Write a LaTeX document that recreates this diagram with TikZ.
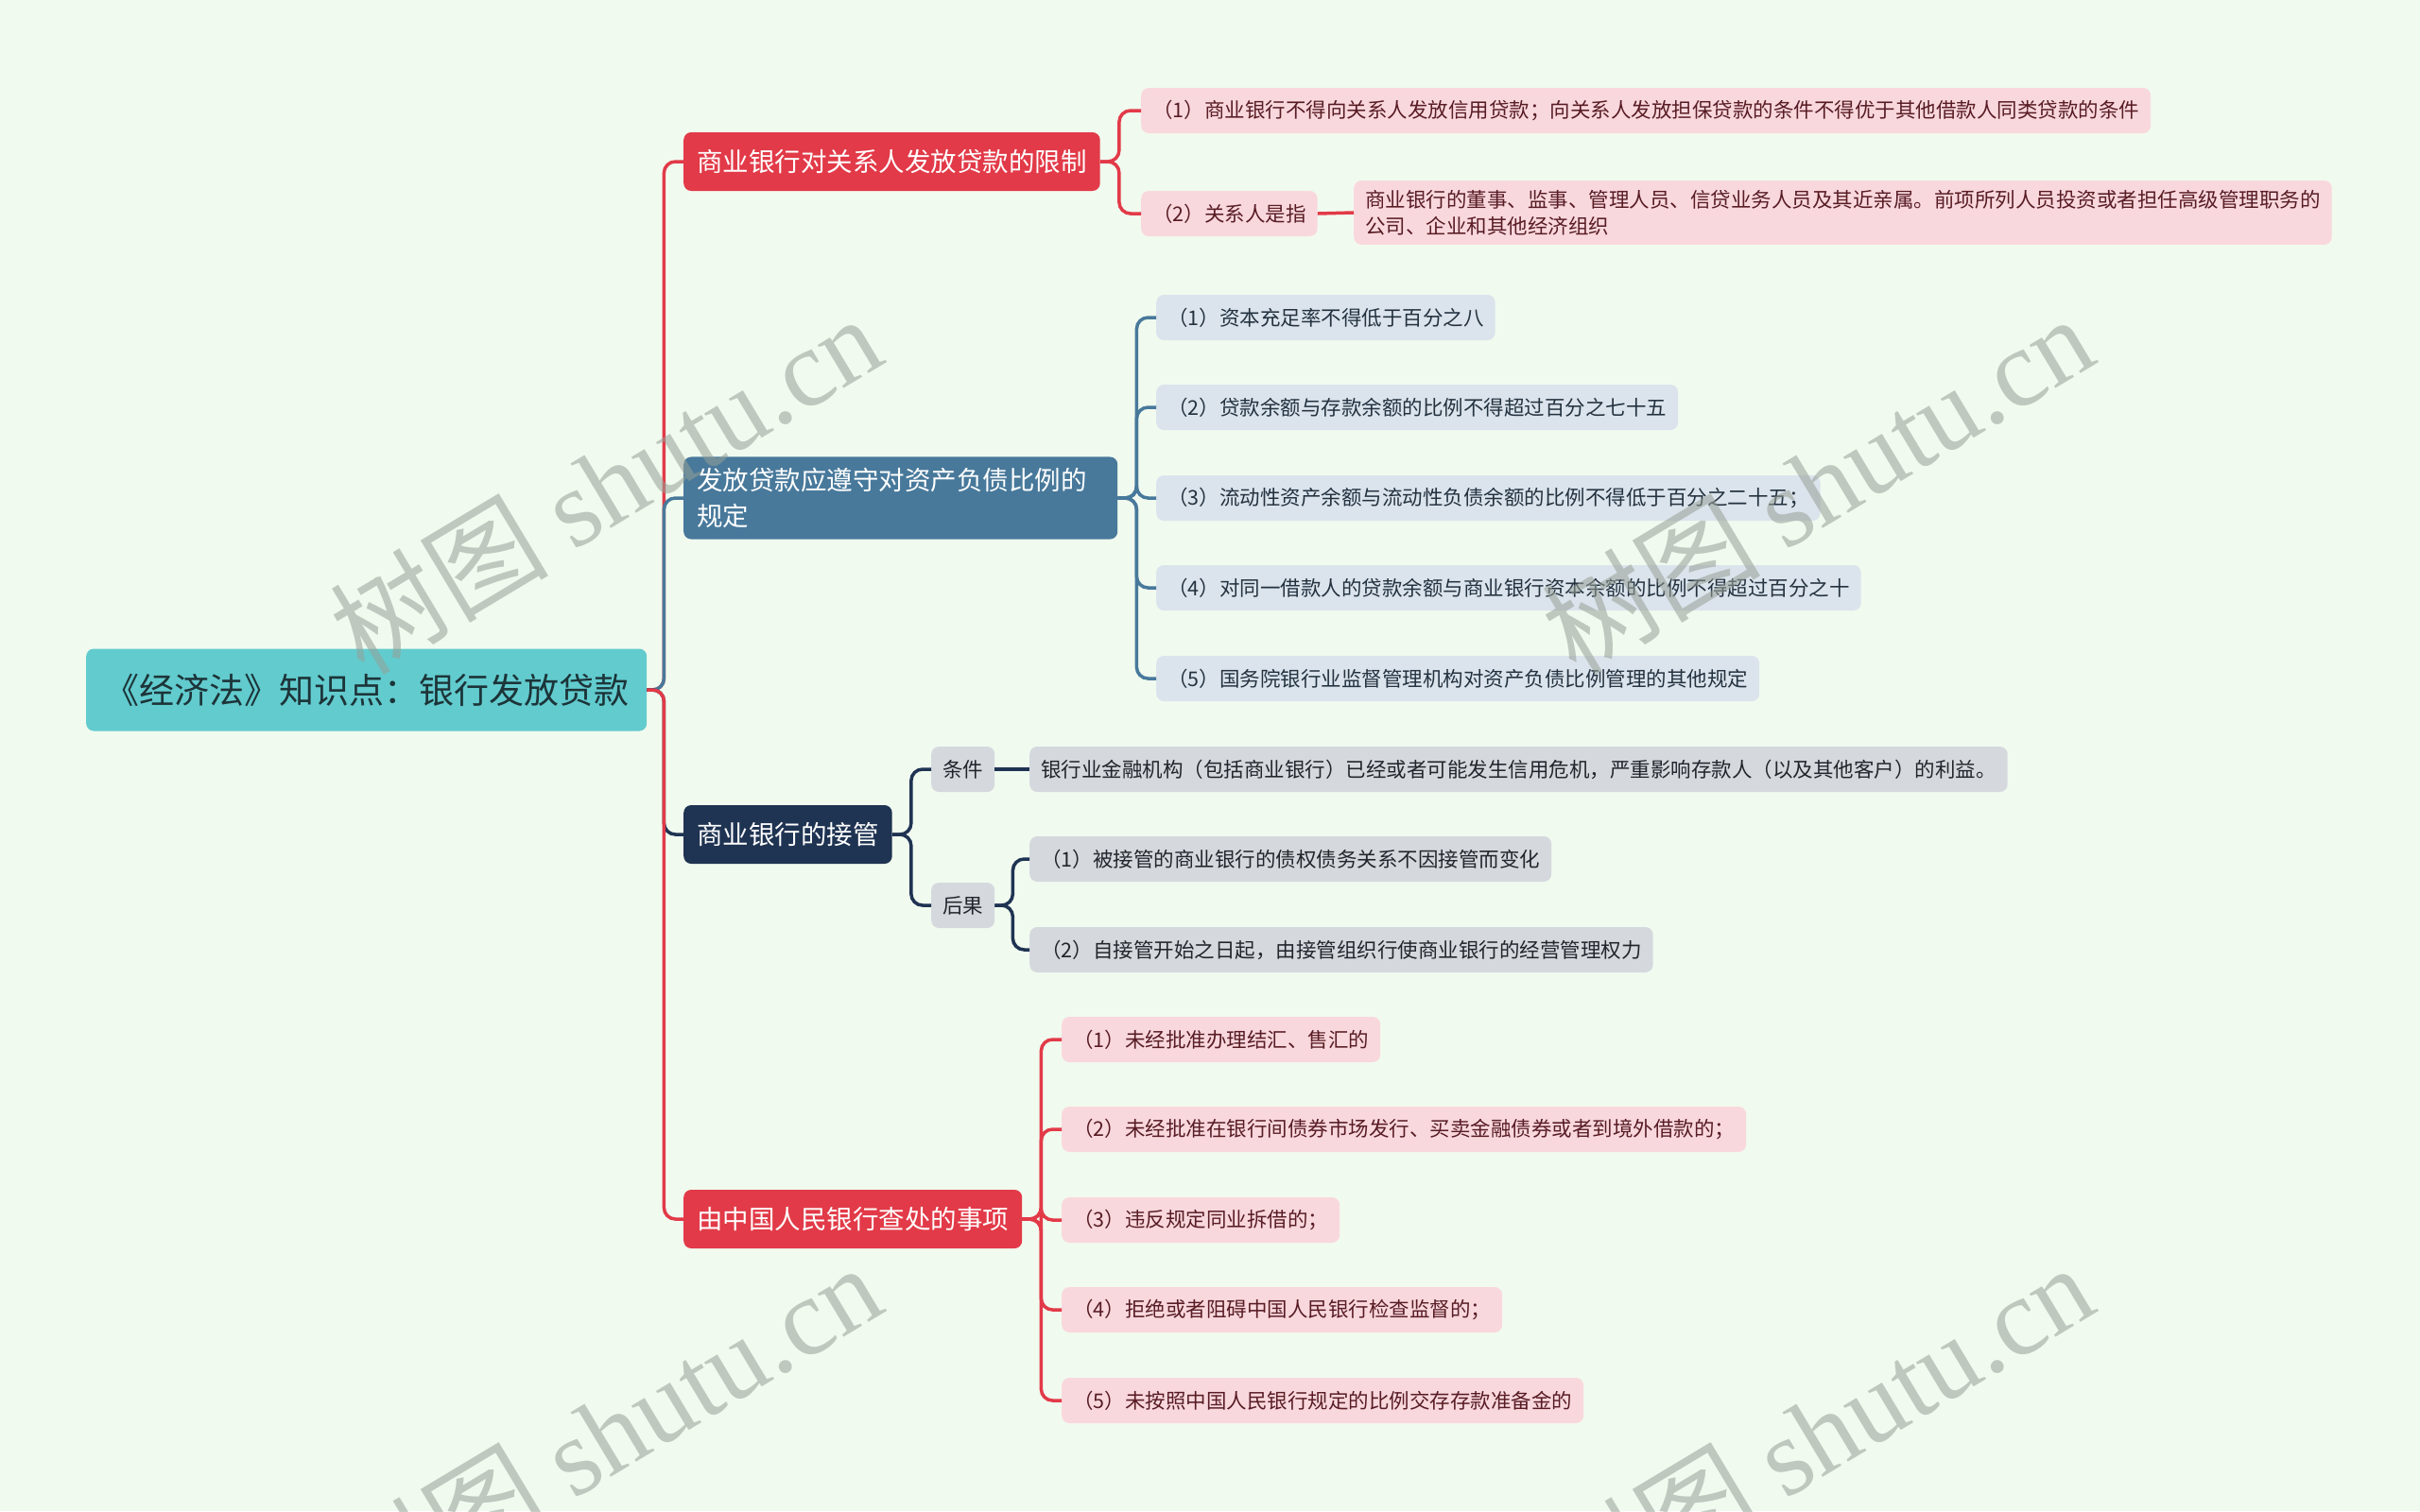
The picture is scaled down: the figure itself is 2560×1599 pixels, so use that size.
\documentclass[tikz,border=0pt]{standalone}
\usepackage{fontspec}
\setmainfont{Noto Sans CJK SC}
\newfontfamily\wmlatin{Liberation Serif}
\definecolor{bg}{RGB}{241,250,239}
\definecolor{rootc}{RGB}{98,203,206}
\definecolor{roottext}{RGB}{28,52,56}
\definecolor{redc}{RGB}{226,58,72}
\definecolor{pinkc}{RGB}{249,216,221}
\definecolor{pinktext}{RGB}{88,28,36}
\definecolor{bluec}{RGB}{72,121,155}
\definecolor{bluelight}{RGB}{219,228,236}
\definecolor{bluetext}{RGB}{36,50,64}
\definecolor{navyc}{RGB}{31,51,82}
\definecolor{greyc}{RGB}{213,217,222}
\definecolor{greytext}{RGB}{34,38,44}
\definecolor{wmc}{RGB}{150,160,150}
\tikzset{
  box/.style={rounded corners=8pt, inner xsep=12pt, inner ysep=0pt, anchor=west, align=left},
  rootbox/.style={box, fill=rootc, text=roottext, minimum height=87pt, inner xsep=19pt, font=\fontsize{37}{44}\selectfont},
  brbox/.style={box, text=white, minimum height=62pt, inner xsep=14pt, font=\fontsize{27.5}{37.5}\selectfont},
  leaf/.style={box, minimum height=48pt, font=\fontsize{21.5}{28}\selectfont},
  pinkleaf/.style={leaf, fill=pinkc, text=pinktext},
  blueleaf/.style={leaf, fill=bluelight, text=bluetext},
  greyleaf/.style={leaf, fill=greyc, text=greytext},
  conn/.style={line width=3.5pt, rounded corners=12pt},
  wm/.style={text=wmc, opacity=0.55, rotate=31, font=\fontsize{116}{120}\selectfont}
}
\begin{document}
\begin{tikzpicture}[x=1pt,y=-1pt]
\useasboundingbox (0,0) rectangle (2560,1599);
\fill[bg] (0,0) rectangle (2560,1599);

% nodes
\node[rootbox] (root) at (91,730) {《经济法》知识点：银行发放贷款};
\node[brbox, fill=redc] (b1) at (723,171) {商业银行对关系人发放贷款的限制};
\node[brbox, fill=bluec, inner ysep=12pt, text width=431pt] (b2) at (723,527) {发放贷款应遵守对资产负债比例的\\规定};
\node[brbox, fill=navyc] (b3) at (723,883) {商业银行的接管};
\node[brbox, fill=redc] (b4) at (723,1290) {由中国人民银行查处的事项};

\node[pinkleaf] (c1a) at (1207,117) {（1）商业银行不得向关系人发放信用贷款；向关系人发放担保贷款的条件不得优于其他借款人同类贷款的条件};
\node[pinkleaf] (c1b) at (1207,226) {（2）关系人是指};
\node[pinkleaf, inner ysep=10pt] (c1c) at (1432,225) {商业银行的董事、监事、管理人员、信贷业务人员及其近亲属。前项所列人员投资或者担任高级管理职务的\\公司、企业和其他经济组织};

\node[blueleaf] (c2a) at (1223,336) {（1）资本充足率不得低于百分之八};
\node[blueleaf] (c2b) at (1223,431) {（2）贷款余额与存款余额的比例不得超过百分之七十五};
\node[blueleaf] (c2c) at (1223,527) {（3）流动性资产余额与流动性负债余额的比例不得低于百分之二十五；};
\node[blueleaf] (c2d) at (1223,622) {（4）对同一借款人的贷款余额与商业银行资本余额的比例不得超过百分之十};
\node[blueleaf] (c2e) at (1223,718) {（5）国务院银行业监督管理机构对资产负债比例管理的其他规定};

\node[greyleaf] (c3a) at (985,814) {条件};
\node[greyleaf] (c3b) at (985,958) {后果};
\node[greyleaf] (c3a1) at (1089,814) {银行业金融机构（包括商业银行）已经或者可能发生信用危机，严重影响存款人（以及其他客户）的利益。};
\node[greyleaf] (c3b1) at (1089,909) {（1）被接管的商业银行的债权债务关系不因接管而变化};
\node[greyleaf] (c3b2) at (1089,1005) {（2）自接管开始之日起，由接管组织行使商业银行的经营管理权力};

\node[pinkleaf] (c4a) at (1123,1100) {（1）未经批准办理结汇、售汇的};
\node[pinkleaf] (c4b) at (1123,1195) {（2）未经批准在银行间债券市场发行、买卖金融债券或者到境外借款的；};
\node[pinkleaf] (c4c) at (1123,1291) {（3）违反规定同业拆借的；};
\node[pinkleaf] (c4d) at (1123,1386) {（4）拒绝或者阻碍中国人民银行检查监督的；};
\node[pinkleaf] (c4e) at (1123,1482) {（5）未按照中国人民银行规定的比例交存存款准备金的};

% connectors root -> branches
\draw[conn, redc] (root.east) -- ++(18,0) |- (b1.west);
\draw[conn, bluec] (root.east) -- ++(18,0) |- (b2.west);
\draw[conn, navyc] (root.east) -- ++(18,0) |- (b3.west);
\draw[conn, redc] (root.east) -- ++(18,0) |- (b4.west);

% branch 1
\foreach \c in {c1a,c1b} \draw[conn, redc] (b1.east) -- ++(20,0) |- (\c.west);
\draw[conn, redc] (c1b.east) -- (c1c.west);
% branch 2
\foreach \c in {c2a,c2b,c2c,c2d,c2e} \draw[conn, bluec] (b2.east) -- ++(20,0) |- (\c.west);
% branch 3
\foreach \c in {c3a,c3b} \draw[conn, navyc] (b3.east) -- ++(20,0) |- (\c.west);
\draw[conn, navyc] (c3a.east) -- (c3a1.west);
\foreach \c in {c3b1,c3b2} \draw[conn, navyc] (c3b.east) -- ++(19,0) |- (\c.west);
% branch 4
\foreach \c in {c4a,c4b,c4c,c4d,c4e} \draw[conn, redc] (b4.east) -- ++(20,0) |- (\c.west);

% watermarks
\node[wm] (wm1) at (640,512) {树图 {\wmlatin shutu.cn}};
\node[wm] (wm2) at (1922,512) {树图 {\wmlatin shutu.cn}};
\node[wm] (wm3) at (640,1516) {树图 {\wmlatin shutu.cn}};
\node[wm] (wm4) at (1922,1516) {树图 {\wmlatin shutu.cn}};
\end{tikzpicture}
\end{document}
